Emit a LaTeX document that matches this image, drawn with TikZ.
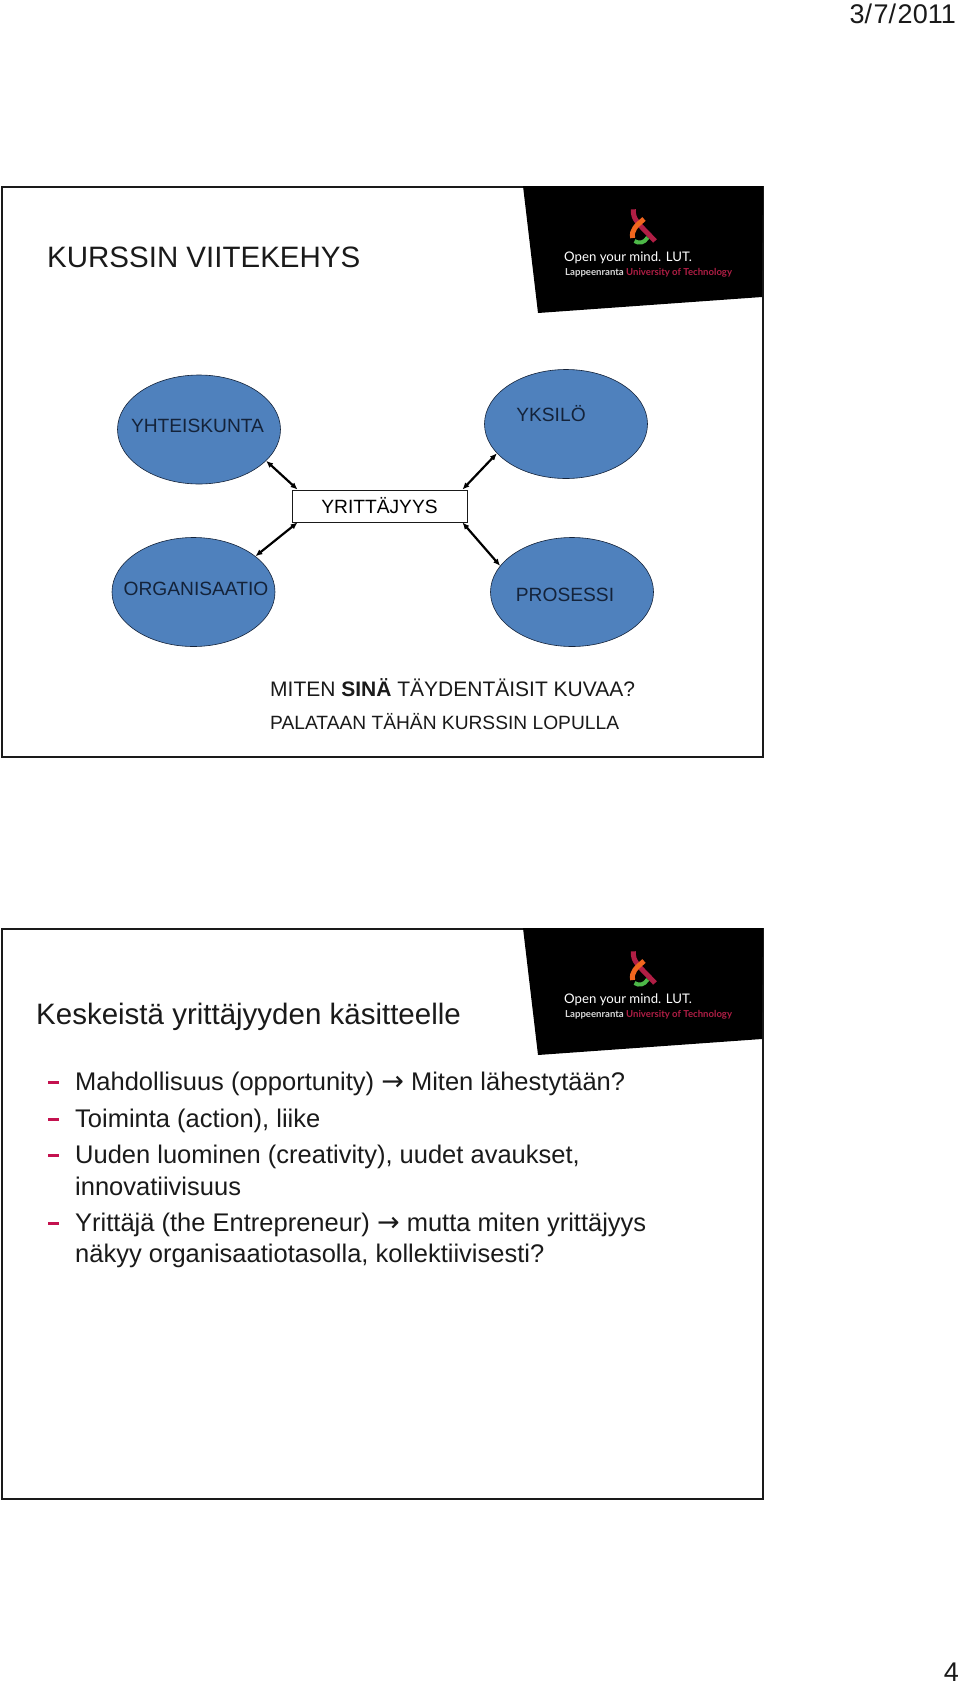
\documentclass[tikz,border=0pt]{standalone}
\usepackage{fontspec}
\setmainfont{Liberation Sans}
\newfontfamily\lutfont{Lato}
\usetikzlibrary{arrows.meta,positioning,shapes.geometric}
\definecolor{blob}{HTML}{4F81BD}
\definecolor{ink}{HTML}{1A1A1A}
\definecolor{crimson}{HTML}{C4124F}
\definecolor{lutred}{HTML}{B01E45}
\definecolor{lutorange}{HTML}{F0661E}
\definecolor{lutgreen}{HTML}{4DB848}
\definecolor{labelink}{HTML}{14233A}
\tikzset{
  slide/.style={draw=ink, line width=1.6pt, fill=white},
  blobnode/.style={ellipse, draw=labelink, line width=.6pt, fill=blob,
    minimum width=163pt, minimum height=109pt, inner sep=0pt},
  boxnode/.style={rectangle, draw=ink, line width=.8pt, fill=white,
    minimum width=175pt, minimum height=32pt, inner sep=0pt, font=\fontsize{19.2}{21}\selectfont},
  label/.style={font=\fontsize{19.2}{21}\selectfont, text=labelink, inner sep=0pt},
  note/.style={font=\fontsize{19.2}{21}\selectfont, text=ink, anchor=base west, inner sep=0pt},
  heading/.style={font=\fontsize{29.5}{32}\selectfont, text=ink, anchor=base west, inner sep=0pt},
  bodyline/.style={font=\fontsize{25.5}{28}\selectfont, text=ink, anchor=base west, inner sep=0pt},
  corner/.style={font=\fontsize{27}{29}\selectfont, text=ink, anchor=base east, inner sep=0pt},
  tick/.style={rectangle, fill=crimson, minimum width=11pt, minimum height=2.5pt, inner sep=0pt},
  arrow/.style={{Latex[length=7pt,width=6pt]}-{Latex[length=7pt,width=6pt]}, line width=2.2pt, draw=black},
  lutlogo/.pic={
    \fill[black] (23,16) -- (263,16) -- (262,127) -- (38,143) -- cycle;
    \draw[lutred, line width=5pt] (133.3,39.3) .. controls (133,50) and (137,52) .. (155,71);
    \draw[lutorange, line width=5pt] (144,49) .. controls (136,56) and (131,60) .. (132.7,68);
    \draw[lutgreen, line width=4pt] (134.5,71) .. controls (139,74) and (144,73) .. (147.7,67.5);
    \node[font=\lutfont\fontsize{13.2}{15}\selectfont, text=white, anchor=base west, inner sep=0pt]
      (lutopen) at (64,91) {Open your mind. LUT.};
    \node[font=\lutfont\bfseries\fontsize{9.6}{11}\selectfont, text=white!85!black, anchor=base west, inner sep=0pt]
      (lutname) at (65,105) {Lappeenranta \textcolor{lutred}{University of Technology}};
  }
}
\newcommand{\wingarrow}{{\fontspec{DejaVu Sans}\fontsize{27}{28}\selectfont →}}
\begin{document}
\begin{tikzpicture}[x=1pt,y=-1pt]
  \useasboundingbox (0,0) rectangle (960,1684);
  \fill[white] (0,0) rectangle (960,1684);

  \node[corner] (date) at (956,23) {3/\kern1.5pt7/\kern1.5pt2011};
  \node[corner] (page) at (959,1681) {4};

  \draw[slide] (2,187) rectangle (763,757);
  \pic at (500,170) {lutlogo};
  \node[heading] (title) at (47,267) {KURSSIN VIITEKEHYS};

  \node[blobnode] (yhteiskunta) at (199,429.5) {};
  \node[blobnode] (yksilo) at (566,424) {};
  \node[blobnode] (organisaatio) at (193.5,592) {};
  \node[blobnode] (prosessi) at (572,592) {};
  \node[boxnode] (yrittajyys) at (379.5,506) {YRITTÄJYYS};

  \node[label] at (197.5,426) {YHTEISKUNTA};
  \node[label] at (551,414) {YKSILÖ};
  \node[label] at (196,589) {ORGANISAATIO};
  \node[label] at (565,595) {PROSESSI};

  \draw[arrow] (yhteiskunta.-25) -- ([xshift=6pt]yrittajyys.north west);
  \draw[arrow] (yksilo.203) -- ([xshift=-5pt]yrittajyys.north east);
  \draw[arrow] (organisaatio.30) -- ([xshift=6pt]yrittajyys.south west);
  \draw[arrow] (prosessi.160) -- ([xshift=-5pt]yrittajyys.south east);

  \node[note, font=\fontsize{21}{23}\selectfont] (kuvaa) at (270,696) {MITEN \textbf{SINÄ} TÄYDENTÄISIT KUVAA?};
  \node[note] (lopulla) at (270,729) {PALATAAN TÄHÄN KURSSIN LOPULLA};

  \draw[slide] (2,929) rectangle (763,1499);
  \pic at (500,912) {lutlogo};
  \node[heading] (keskeista) at (36,1024) {Keskeistä yrittäjyyden käsitteelle};

  \node[bodyline] (mahd) at (75,1090) {Mahdollisuus (opportunity) \wingarrow{} Miten lähestytään?};
  \node[bodyline] (toim) at (75,1127) {Toiminta (action), liike};
  \node[bodyline] (uuden) at (75,1163) {Uuden luominen (creativity), uudet avaukset,};
  \node[bodyline] (inno) at (75,1195) {innovatiivisuus};
  \node[bodyline] (yrit) at (75,1231) {Yrittäjä (the Entrepreneur) \wingarrow{} mutta miten yrittäjyys};
  \node[bodyline] (nakyy) at (75,1262) {näkyy organisaatiotasolla, kollektiivisesti?};

  \foreach \line in {mahd,toim,uuden,yrit}
    \node[tick] at ([xshift=-21.5pt,yshift=7.5pt]\line.base west) {};
\end{tikzpicture}
\end{document}
